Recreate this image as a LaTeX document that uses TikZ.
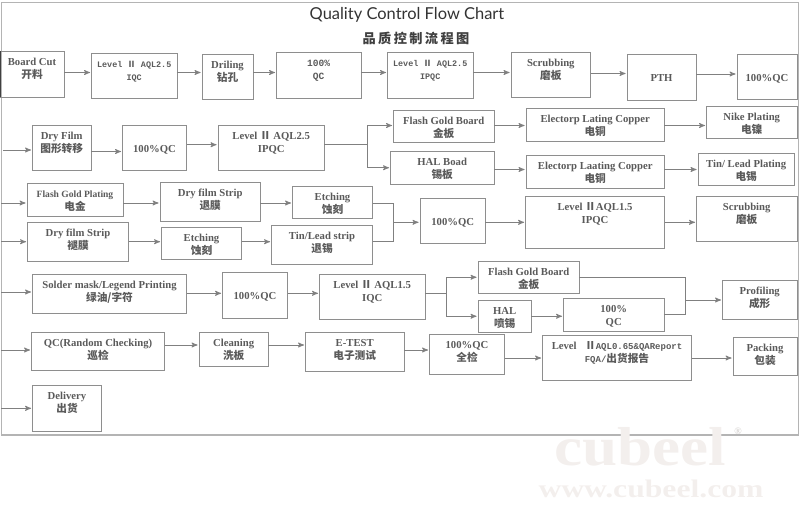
\documentclass[tikz,border=0pt]{standalone}
\usepackage{fontspec}
\setmainfont{Liberation Serif}
\setmonofont{Liberation Mono}
\newfontfamily\cjk{Noto Sans CJK SC}
\newfontfamily\cjktitle[LetterSpace=18]{Noto Sans CJK SC}
\newfontfamily\titlefont{Lato}
\newfontfamily\markfont[FakeStretch=1.15]{Liberation Serif}
\newfontfamily\urlfont[FakeStretch=1.25]{Liberation Serif}
\usetikzlibrary{arrows}

\tikzset{
    box/.style 2 args={draw=boxgray,line width=0.6pt,anchor=north,align=center,inner sep=0pt,outer sep=0pt,
        minimum width=#1*0.025cm,text height=0.675cm,text depth={(#2-27)*0.025cm},
        text=textgray,font=\fontsize{7.6}{9.2}\selectfont\bfseries},
    flow/.style={->,draw=linegray,line width=0.6pt,shorten >=1pt},
    link/.style={draw=linegray,line width=0.6pt},
}
\definecolor{boxgray}{HTML}{8E8E8E}
\definecolor{linegray}{HTML}{808080}
\definecolor{textgray}{HTML}{5A5A5A}
\definecolor{framegray}{HTML}{B4B4B4}
\definecolor{markgray}{HTML}{F3EFED}

\begin{document}
\begin{tikzpicture}[x=0.025cm,y=-0.025cm,>=stealth']
        \useasboundingbox (0,0) rectangle (800,526);
        \draw[framegray,line width=0.9pt] (1.5,2.5) rectangle (798.5,435);
        \node[text=black!80,font=\titlefont\fontsize{11.7}{13}\selectfont](title) at (407,14.5){Quality Control Flow Chart};
        \node[text=black!75,font=\cjktitle\fontsize{9.4}{11}\selectfont\bfseries](title_cn) at (416,38.5){品质控制流程图};
        % watermark
        \node[text=markgray,inner sep=0pt,font=\markfont\fontsize{39}{41}\selectfont\bfseries](mark) at (640,446.5){cubeel};
        \node[text=markgray!85!black,inner sep=0pt,font=\fontsize{7}{8}\selectfont](mark_r) at (738,431){®};
        \node[text=markgray,inner sep=0pt,font=\urlfont\fontsize{18}{20}\selectfont\bfseries](mark_url) at (651,489){www.cubeel.com};

        % first row
        \node[box={64}{46}](board_cut) at (32,51){Board Cut\\{\cjk 开料}};
        \node[box={85.5}{44.5}](iqc_a) at (134.2,53.5){{\ttfamily\fontsize{6}{9.2}\selectfont Level {\cjk Ⅱ} AQL2.5}\\{\ttfamily\fontsize{6}{9.2}\selectfont IQC}};
        \node[box={51}{44.5}](drilling) at (227.5,54.5){Driling\\{\cjk 钻孔}};
        \node[box={84.5}{45.5}](qc_a) at (318.7,52.5){{\ttfamily\fontsize{6.8}{9.2}\selectfont 100\%}\\{\ttfamily\fontsize{6.8}{9.2}\selectfont QC}};
        \node[box={85.5}{45.5}](ipqc_a) at (430.2,52.5){{\ttfamily\fontsize{6}{9.2}\selectfont Level {\cjk Ⅱ} AQL2.5}\\{\ttfamily\fontsize{6}{9.2}\selectfont IPQC}};
        \node[box={79.7}{45}](scrub_a) at (550.8,52){Scrubbing\\{\cjk 磨板}};
        \node[box={69}{45.5}](pth) at (661.5,54.5){PTH};
        \node[box={60}{45}](qc_b) at (767,54.5){100\%QC};

        % second row
        \node[box={58.5}{45}](dry_film) at (61.7,125.5){Dry Film\\{\cjk 图形转移}};
        \node[box={64}{45}](qc_c) at (154.5,125.5){100\%QC};
        \node[box={106.5}{45}](ipqc_b) at (271.2,125.5){Level {\cjk Ⅱ} AQL2.5\\IPQC};
        \node[box={100.5}{32.5}](flash_a) at (443.7,110){Flash Gold Board\\{\cjk 金板}};
        \node[box={138.5}{33}](copper_a) at (595.2,108.5){Electorp Lating Copper\\{\cjk 电铜}};
        \node[box={90.5}{32}](nike) at (751.7,106){Nike Plating\\{\cjk 电镍}};
        \node[box={103.5}{32.5}](hal_a) at (442.2,151.5){HAL Boad\\{\cjk 锡板}};
        \node[box={138.5}{33}](copper_b) at (595.2,155){Electorp Laating Copper\\{\cjk 电铜}};
        \node[box={96.5}{32}](tin_a) at (746.2,153.5){Tin/ Lead Plating\\{\cjk 电锡}};

        % third row
        \node[box={96}{33}](flash_b) at (75,183.5){{\fontsize{6.8}{9.2}\selectfont Flash Gold Plating}\\{\cjk 电金}};
        \node[box={100.5}{39}](strip_a) at (210.2,182.5){Dry film Strip\\{\cjk 退膜}};
        \node[box={80}{32}](etch_a) at (332.5,186.5){Etching\\{\cjk 蚀刻}};
        \node[box={101}{38.5}](strip_b) at (78,222.5){Dry film Strip\\{\cjk 褪膜}};
        \node[box={80}{32}](etch_b) at (201.5,227.5){Etching\\{\cjk 蚀刻}};
        \node[box={101}{39}](tin_b) at (322,225){Tin/Lead strip\\{\cjk 退锡}};
        \node[box={65.5}{45.5}](qc_d) at (452.7,198){100\%QC};
        \node[box={139}{51.5}](ipqc_c) at (595,196.5){Level {\cjk Ⅱ}AQL1.5\\IPQC};
        \node[box={100.5}{45.5}](scrub_b) at (746.7,196){Scrubbing\\{\cjk 磨板}};

        % fourth row
        \node[box={154}{39}](solder) at (109.5,274){Solder mask/Legend Printing\\{\cjk 绿油/字符}};
        \node[box={65}{46}](qc_e) at (255,272.5){100\%QC};
        \node[box={105.5}{45.5}](iqc_b) at (372.2,274){Level {\cjk Ⅱ} AQL1.5\\IQC};
        \node[box={101.5}{32.5}](flash_c) at (528.7,261){Flash Gold Board\\{\cjk 金板}};
        \node[box={53.5}{32.5}](hal_b) at (504.7,300){HAL\\{\cjk 喷锡}};
        \node[box={100.5}{33}](qc_f) at (613.7,298){100\%\\QC};
        \node[box={74.5}{38.5}](profiling) at (759.7,280.5){Profiling\\{\cjk 成形}};

        % fifth row
        \node[box={133}{38}](qc_random) at (98,332.5){QC(Random Checking)\\{\cjk 巡检}};
        \node[box={69.5}{34}](cleaning) at (233.7,332){Cleaning\\{\cjk 洗板}};
        \node[box={98.5}{39}](e_test) at (354.7,332.5){E-TEST\\{\cjk 电子测试}};
        \node[box={75}{40}](qc_g) at (467,334){100\%QC\\{\cjk 全检}};
        \node[box={149}{45.5}](fqa) at (617,335){Level\hspace{6pt}{\cjk Ⅱ}{\ttfamily\fontsize{6.4}{9.2}\selectfont AQL0.65\&QAReport}\\{\ttfamily\fontsize{6.4}{9.2}\selectfont FQA/}{\cjk 出货报告}};
        \node[box={64}{38.5}](packing) at (765,337){Packing\\{\cjk 包装}};
        \node[box={69}{45.5}](delivery) at (67,385.5){Delivery\\{\cjk 出货}};

        \draw[black!75,line width=0.8pt] (board_cut.north west) -- (board_cut.south west);

        % free ends, junctions and the heights of the lines
        \coordinate (in_b) at (3,150);
        \coordinate (in_c) at (1.5,203);
        \coordinate (in_d) at (1.5,241.7);
        \coordinate (in_e) at (1.5,292);
        \coordinate (in_f) at (1.5,350);
        \coordinate (in_g) at (1.5,408.3);
        \coordinate (row_a) at (0,72.5);
        \coordinate (row_b) at (0,73.5);
        \coordinate (row_c) at (0,74);
        \coordinate (row_d) at (0,151.5);
        \coordinate (row_e) at (0,125.5);
        \coordinate (row_f) at (0,169.5);
        \coordinate (row_g) at (0,293.3);
        \coordinate (row_h) at (0,345);
        \coordinate (row_i) at (0,358);
        \coordinate (row_j) at (0,222.3);
        \coordinate (split_a) at (367,144.7);
        \coordinate (join_a) at (393,222.3);
        \coordinate (split_b) at (446,293.3);
        \coordinate (join_b) at (685.7,300);

        \draw[flow] (board_cut.east |- row_a) -- (iqc_a.west |- row_a);
        \draw[flow] (iqc_a.east |- row_a) -- (drilling.west |- row_a);
        \draw[flow] (drilling.east |- row_a) -- (qc_a.west |- row_a);
        \draw[flow] (qc_a.east |- row_a) -- (ipqc_a.west |- row_a);
        \draw[flow] (ipqc_a.east |- row_a) -- (scrub_a.west |- row_a);
        \draw[flow] (scrub_a.east |- row_b) -- (pth.west |- row_b);
        \draw[flow] (pth.east |- row_c) -- (qc_b.west |- row_c);

        \draw[flow] (in_b) -- (dry_film.west |- in_b);
        \draw[flow] (dry_film.east |- row_d) -- (qc_c.west |- row_d);
        \draw[flow] (qc_c.east |- split_a) -- (ipqc_b.west |- split_a);
        \draw[link] (ipqc_b.east |- split_a) -- (split_a);
        \draw[flow] (split_a) |- (flash_a.west |- row_e);
        \draw[flow] (split_a) |- (hal_a.west);
        \draw[flow] (flash_a.east |- row_e) -- (copper_a.west |- row_e);
        \draw[flow] (copper_a.east |- row_e) -- (nike.west |- row_e);
        \draw[flow] (hal_a.east |- row_f) -- (copper_b.west |- row_f);
        \draw[flow] (copper_b.east |- row_f) -- (tin_a.west |- row_f);

        \draw[flow] (in_c) -- (flash_b.west |- in_c);
        \draw[flow] (flash_b.east |- in_c) -- (strip_a.west |- in_c);
        \draw[flow] (strip_a.east |- in_c) -- (etch_a.west |- in_c);
        \draw[link] (etch_a.east |- in_c) -| (join_a);
        \draw[flow] (in_d) -- (strip_b.west |- in_d);
        \draw[flow] (strip_b.east |- in_d) -- (etch_b.west |- in_d);
        \draw[flow] (etch_b.east |- in_d) -- (tin_b.west |- in_d);
        \draw[link] (tin_b.east |- in_d) -| (join_a);
        \draw[flow] (join_a) -- (qc_d.west |- join_a);
        \draw[flow] (qc_d.east |- row_j) -- (ipqc_c.west |- row_j);
        \draw[flow] (ipqc_c.east |- row_j) -- (scrub_b.west |- row_j);

        \draw[flow] (in_e) -- (solder.west |- in_e);
        \draw[flow] (solder.east |- row_g) -- (qc_e.west |- row_g);
        \draw[flow] (qc_e.east |- row_g) -- (iqc_b.west |- row_g);
        \draw[link] (iqc_b.east |- split_b) -- (split_b);
        \draw[flow] (split_b) |- (flash_c.west);
        \draw[flow] (split_b) |- (hal_b.west);
        \draw[flow] (hal_b.east) -- (qc_f.west |- hal_b.east);
        \draw[link] (flash_c.east) -| (join_b);
        \draw[link] (qc_f.east) -| (join_b);
        \draw[flow] (join_b) -- (profiling.west |- join_b);

        \draw[flow] (in_f) -- (qc_random.west |- in_f);
        \draw[flow] (qc_random.east |- row_h) -- (cleaning.west |- row_h);
        \draw[flow] (cleaning.east |- row_h) -- (e_test.west |- row_h);
        \draw[flow] (e_test.east |- in_f) -- (qc_g.west |- in_f);
        \draw[flow] (qc_g.east |- row_i) -- (fqa.west |- row_i);
        \draw[flow] (fqa.east |- row_i) -- (packing.west |- row_i);
        \draw[flow] (in_g) -- (delivery.west |- in_g);
\end{tikzpicture}
\end{document}
